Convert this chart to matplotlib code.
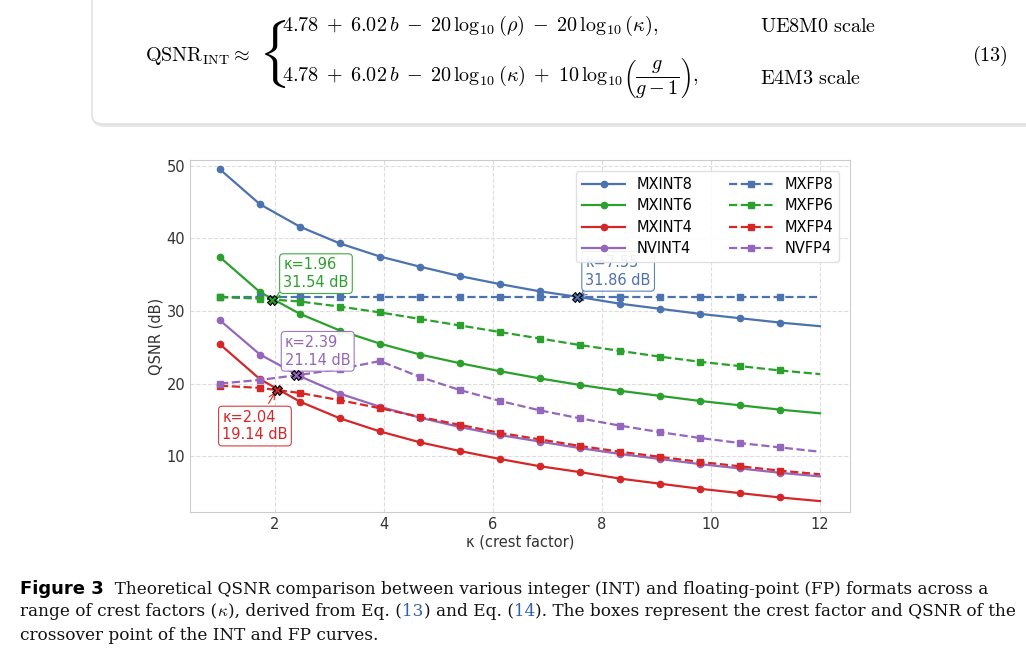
import numpy as np
import matplotlib
matplotlib.use("Agg")
import matplotlib.pyplot as plt
from matplotlib.patches import FancyBboxPatch

kappa = [1.0, 1.733, 2.467, 3.2, 3.933, 4.667, 5.4, 6.133, 6.867, 7.6,
         8.333, 9.067, 9.8, 10.533, 11.267, 12.0]

int_series = {
    "MXINT8": [49.5, 44.7, 41.6, 39.3, 37.5, 36.1, 34.8, 33.7, 32.7, 31.9, 31.0, 30.3, 29.6, 29.0, 28.4, 27.9],
    "MXINT6": [37.4, 32.6, 29.6, 27.3, 25.5, 24.0, 22.8, 21.7, 20.7, 19.8, 19.0, 18.3, 17.6, 17.0, 16.4, 15.9],
    "MXINT4": [25.4, 20.6, 17.5, 15.2, 13.4, 11.9, 10.7, 9.6, 8.6, 7.8, 6.9, 6.2, 5.5, 4.9, 4.3, 3.8],
    "NVINT4": [28.7, 24.0, 21.0, 18.6, 16.8, 15.3, 14.0, 12.9, 12.0, 11.1, 10.3, 9.6, 8.9, 8.3, 7.7, 7.2],
}
fp_series = {
    "MXFP8": [31.9] * 16,
    "MXFP6": [31.9, 31.7, 31.3, 30.6, 29.8, 28.9, 28.0, 27.1, 26.2, 25.3, 24.5, 23.7, 23.0, 22.4, 21.8, 21.3],
    "MXFP4": [19.7, 19.4, 18.7, 17.7, 16.6, 15.4, 14.3, 13.2, 12.3, 11.4, 10.6, 9.9, 9.2, 8.6, 8.0, 7.5],
    "NVFP4": [20.0, 20.5, 21.2, 22.0, 23.1, 20.9, 19.1, 17.6, 16.3, 15.2, 14.2, 13.3, 12.5, 11.8, 11.2, 10.6],
}
colors = ["#4c72b0", "#2ca02c", "#d62728", "#9467bd"]

# crossover points: (kappa, qsnr, colour index, label offset)
cross_k = [1.96, 7.55, 2.39, 2.04]
cross_q = [31.54, 31.86, 21.14, 19.14]
cross_c = [1, 0, 3, 2]
cross_off = [(0.2, 3.6), (0.15, 3.6), (-0.2, 3.3), (-1.0, -5.0)]

fig = plt.figure(figsize=(10.26, 6.61), dpi=100)

# ---- equation box ----
box = FancyBboxPatch((92 / 1026, 1 - 124 / 661), 1.0, 0.25,
                     boxstyle="round,pad=0,rounding_size=0.012",
                     transform=fig.transFigure, facecolor="white",
                     edgecolor="#dddddd", lw=1, zorder=0)
shadow = FancyBboxPatch((93 / 1026, 1 - 127 / 661), 1.0, 0.25,
                        boxstyle="round,pad=0,rounding_size=0.012",
                        transform=fig.transFigure, facecolor="#e8e8e8",
                        edgecolor="none", zorder=-1)
fig.patches.extend([shadow, box])
plt.rcParams["mathtext.fontset"] = "cm"

def ft(x, y, s, **kw):
    fig.text(x / 1026, 1 - y / 661, s, va="center", **kw)

eq = dict(fontsize=14.5, family="serif")
ft(145, 56, r"$\mathrm{QSNR}_{\mathrm{INT}} \approx$", **eq)
ft(258, 54, r"$\{$", fontsize=40, family="serif")
ft(282, 26, r"$4.78\;+\;6.02\,b\;-\;20\,\log_{10}(\rho)\;-\;20\,\log_{10}(\kappa),$", **eq)
ft(282, 78, r"$4.78\;+\;6.02\,b\;-\;20\,\log_{10}(\kappa)\;+\;10\,\log_{10}\!\left(\dfrac{g}{g-1}\right),$", **eq)
ft(760, 26, r"$\mathrm{UE8M0\ scale}$", **eq)
ft(760, 78, r"$\mathrm{E4M3\ scale}$", **eq)
ft(972, 56, r"$(13)$", **eq)

# ---- chart ----
ax = fig.add_axes([190 / 1026, 1 - 512 / 661, 660 / 1026, 352 / 661])
ax.set_facecolor("white")
for i, (name, vals) in enumerate(int_series.items()):
    ax.plot(kappa, vals, "-", marker="o", ms=4.5, lw=1.6, color=colors[i],
            markevery=slice(0, 15), label=name)
for i, (name, vals) in enumerate(fp_series.items()):
    ax.plot(kappa, vals, "--", marker="s", ms=4.5, lw=1.6, color=colors[i],
            markevery=slice(0, 15), label=name)

for k, q, c, (dx, dy) in zip(cross_k, cross_q, cross_c, cross_off):
    ax.plot(k, q, marker="X", ms=7, color=colors[c], mec="black", mew=0.8, zorder=5)
    ax.annotate(f"κ={k:.2f}\n{q:.2f} dB", xy=(k, q), xytext=(k + dx, q + dy),
                color=colors[c], fontsize=10.5, ha="left", va="center",
                bbox=dict(boxstyle="round,pad=0.25", fc="white", ec=colors[c], lw=0.8, alpha=0.9),
                arrowprops=dict(arrowstyle="->", color=colors[c], lw=0.8))

ax.set_xlim(0.45, 12.55)
ax.set_ylim(2.3, 50.8)
ax.set_xticks([2, 4, 6, 8, 10, 12])
ax.set_yticks([10, 20, 30, 40, 50])
ax.grid(True, ls="--", color="#dddddd", lw=0.8)
ax.tick_params(length=0, labelsize=10.5, colors="#333333")
for s in ax.spines.values():
    s.set_color("#cccccc")
ax.set_xlabel("κ (crest factor)", fontsize=10.5, color="#333333", labelpad=2)
ax.set_ylabel("QSNR (dB)", fontsize=10.5, color="#333333", labelpad=2)
ax.legend(ncol=2, loc="upper right", fontsize=10.5, frameon=True, framealpha=0.9,
          edgecolor="#dddddd", handlelength=3, columnspacing=2.5, labelspacing=0.45,
          bbox_to_anchor=(0.995, 0.99))

# ---- caption ----
fig.canvas.draw()
renderer = fig.canvas.get_renderer()

def line(x, y, pieces):
    for s, kw in pieces:
        t = fig.text(x / 1026, 1 - y / 661, s, va="center", **kw)
        x = t.get_window_extent(renderer).x1 + 0
    return x

cap = dict(fontsize=12.2, family="DejaVu Serif", color="#111111")
blue = dict(cap, color="#3060b0")
line(20, 589, [("Figure 3", dict(fontsize=13, fontweight="bold", family="DejaVu Sans")),
               ("  Theoretical QSNR comparison between various integer (INT) and floating-point (FP) formats across a", cap)])
line(20, 612, [("range of crest factors (", cap), (r"$\kappa$", cap),
               ("), derived from Eq. (", cap), ("13", blue), (") and Eq. (", cap), ("14", blue),
               ("). The boxes represent the crest factor and QSNR of the", cap)])
line(20, 635, [("crossover point of the INT and FP curves.", cap)])

fig.savefig("out.png", dpi=100)
